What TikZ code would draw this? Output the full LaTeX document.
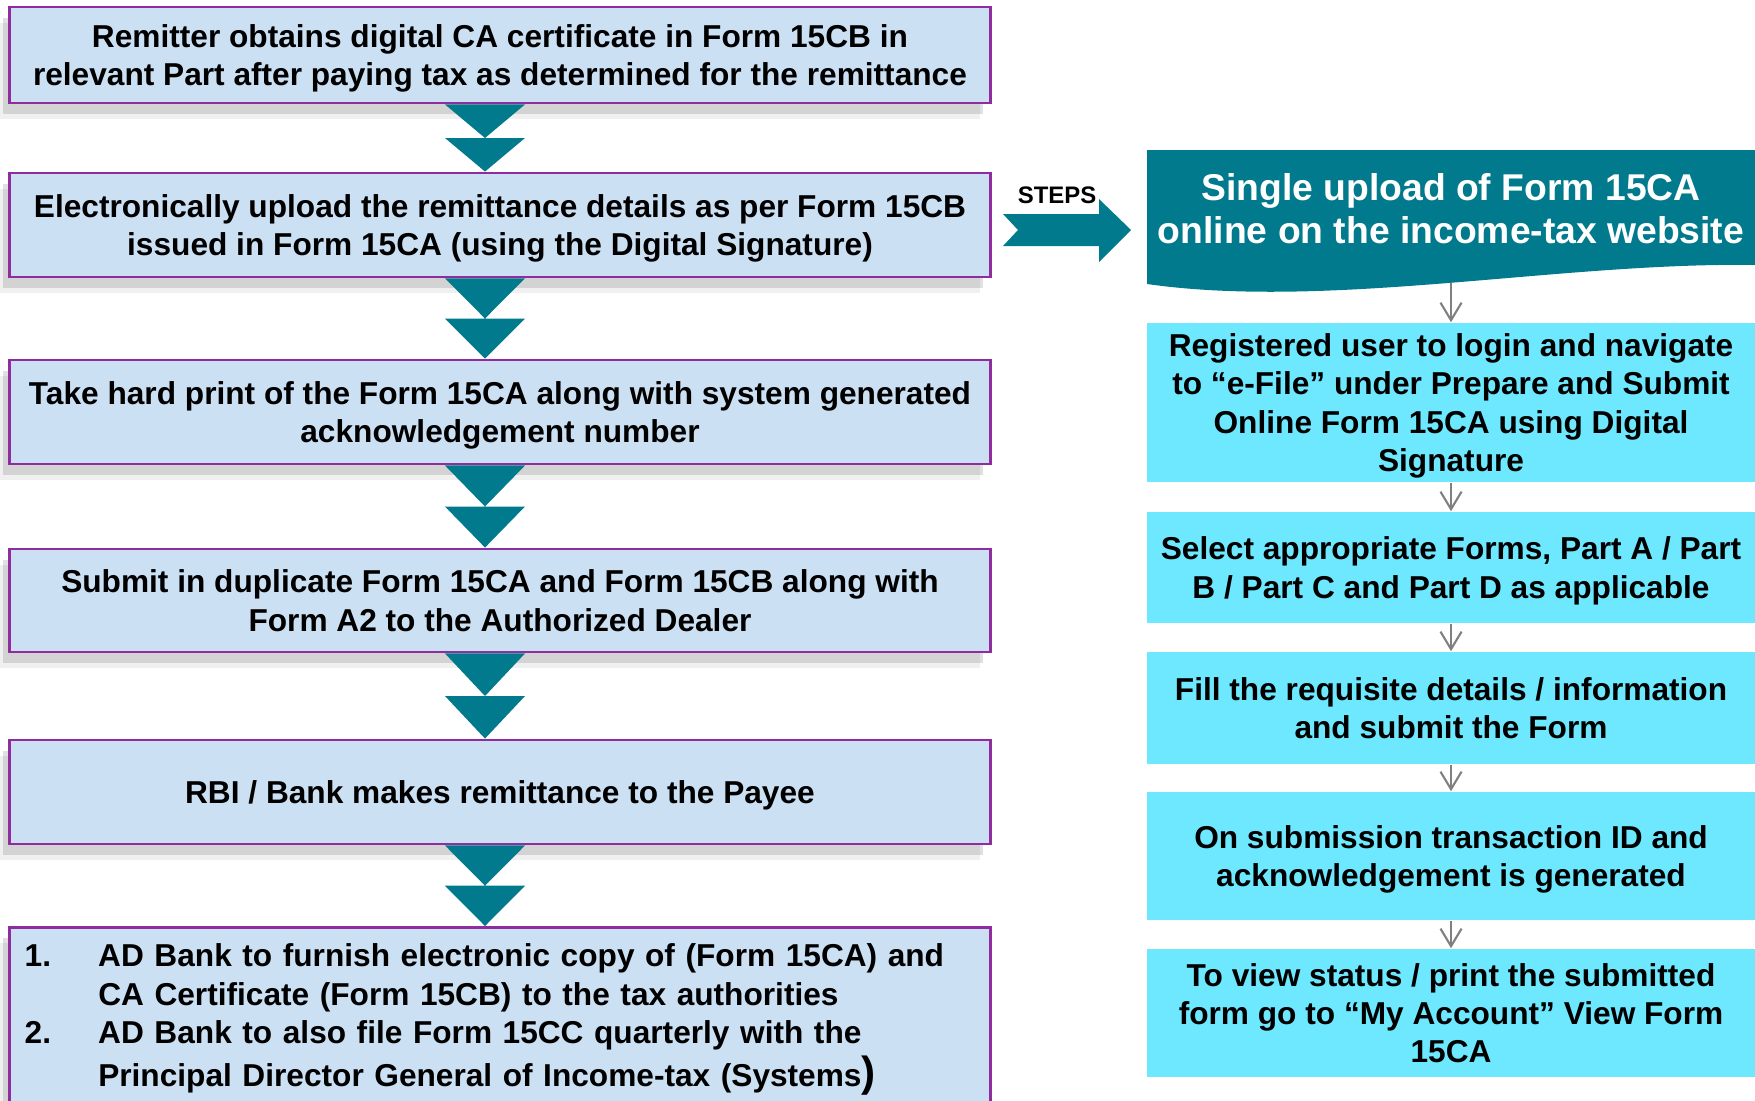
\documentclass[tikz,border=0pt]{standalone}
\usepackage{fontspec}
\setmainfont{Liberation Sans}
\usetikzlibrary{positioning,shadows,calc,arrows.meta}
\definecolor{formblue}{RGB}{204,224,244}
\definecolor{formline}{RGB}{143,45,160}
\definecolor{petrol}{RGB}{0,122,140}
\definecolor{sky}{RGB}{110,232,255}
\definecolor{pipe}{RGB}{128,128,128}
\begin{document}
\begin{tikzpicture}[
      x = 0.01cm, y = -0.01cm,
      font = \bfseries\fontsize{9}{10.9}\selectfont,
      plate/.style = {
        rectangle,
        draw = formline, line width = 0.8pt,
        fill = formblue,
        align = center,
        minimum width = 9.8cm,
        drop shadow = {shadow xshift = -2pt, shadow yshift = -3pt, opacity = .12, fill = black},
        drop shadow = {shadow xshift = -3pt, shadow yshift = -4.5pt, opacity = .06, fill = black},
      },
      stage/.style = {
        plate,
        text depth = 0pt,
      },
      task/.style = {
        rectangle,
        fill = sky,
        align = center,
        minimum width = 6.08cm,
        inner sep = 0pt,
        text depth = 0pt,
      },
      head/.style = {
        text = white,
        align = center,
        font = \bfseries\fontsize{10.6}{12.2}\selectfont,
      },
      chev/.style = {
        fill = petrol,
      },
      link/.style = {
        draw = pipe, line width = 0.6pt,
        -{Straight Barb[length = 5pt, width = 6pt]},
      },
    ]
    \useasboundingbox (0,0) rectangle (1755,1100);

    \node[stage, minimum height = 0.96cm] (b1) at (500,55) {Remitter obtains digital CA certificate in Form 15CB in\\relevant Part after paying tax as determined for the remittance};
    \node[stage, minimum height = 1.04cm] (b2) at (500,225) {Electronically upload the remittance details as per Form 15CB\\issued in Form 15CA (using the Digital Signature)};
    \node[stage, minimum height = 1.04cm] (b3) at (500,412) {Take hard print of the Form 15CA along with system generated\\acknowledgement number};
    \node[stage, minimum height = 1.03cm] (b4) at (500,600.5) {Submit in duplicate Form 15CA and Form 15CB along with\\Form A2 to the Authorized Dealer};
    \node[stage, minimum height = 1.04cm] (b5) at (500,792) {RBI / Bank makes remittance to the Payee};
    \node[plate, minimum height = 1.84cm, anchor = north, align = left, text width = 9.5cm, inner xsep = 0.15cm] (b6) at (500,926) {\makebox[0.735cm][l]{1.}AD Bank to furnish electronic copy of (Form 15CA) and\\\hspace*{0.735cm}CA Certificate (Form 15CB) to the tax authorities\\\makebox[0.735cm][l]{2.}AD Bank to also file Form 15CC quarterly with the\\[1.2pt]\hspace*{0.735cm}Principal Director General of Income-tax (Systems{\fontsize{12}{12}\selectfont)}};

    \foreach \a/\b in {b1/b2, b2/b3, b3/b4, b4/b5, b5/b6}
      \fill[chev] let \p1 = (\a.south), \p2 = (\b.north), \n1 = {(\y1+\y2)/2} in
        (\x1-0.55cm,\y1) -- (\x1+0.25cm,\y1) -- (\x1-0.15cm,\n1) -- cycle
        (\x1-0.55cm,\n1) -- (\x1+0.25cm,\n1) -- (\x1-0.15cm,\y2) -- cycle;

    \fill[petrol] (1003,214) -- (1099,214) -- (1099,199) -- (1131,230) -- (1099,262) -- (1099,246) -- (1003,246) -- (1018,230) -- cycle;
    \node[font = \bfseries\fontsize{6.8}{8}\selectfont] (steps) at (1057,195) {STEPS};

    \fill[petrol] (1147,150) -- (1755,150) -- (1755,265) .. controls (1560,262) and (1330,310) .. (1147,284) -- cycle;
    \node[head] (hd) at (1451,209) {Single upload of Form 15CA\\online on the income-tax website};
    \coordinate (hdtip) at (1451,283);

    \node[task, minimum height = 1.59cm] (r1) at (1451,402.5) {Registered user to login and navigate\\to “e-File” under Prepare and Submit\\Online Form 15CA using Digital\\Signature};
    \node[task, minimum height = 1.11cm] (r2) at (1451,567.5) {Select appropriate Forms, Part A / Part\\B / Part C and Part D as applicable};
    \node[task, minimum height = 1.12cm] (r3) at (1451,708) {Fill the requisite details / information\\and submit the Form};
    \node[task, minimum height = 1.28cm] (r4) at (1451,856) {On submission transaction ID and\\acknowledgement is generated};
    \node[task, minimum height = 1.28cm] (r5) at (1451,1013) {To view status / print the submitted\\form go to “My Account” View Form\\15CA};

    \draw[link] (hdtip) -- (r1);
    \foreach \a/\b in {r1/r2, r2/r3, r3/r4, r4/r5}
      \draw[link] (\a) -- (\b);
  \end{tikzpicture}
\end{document}
